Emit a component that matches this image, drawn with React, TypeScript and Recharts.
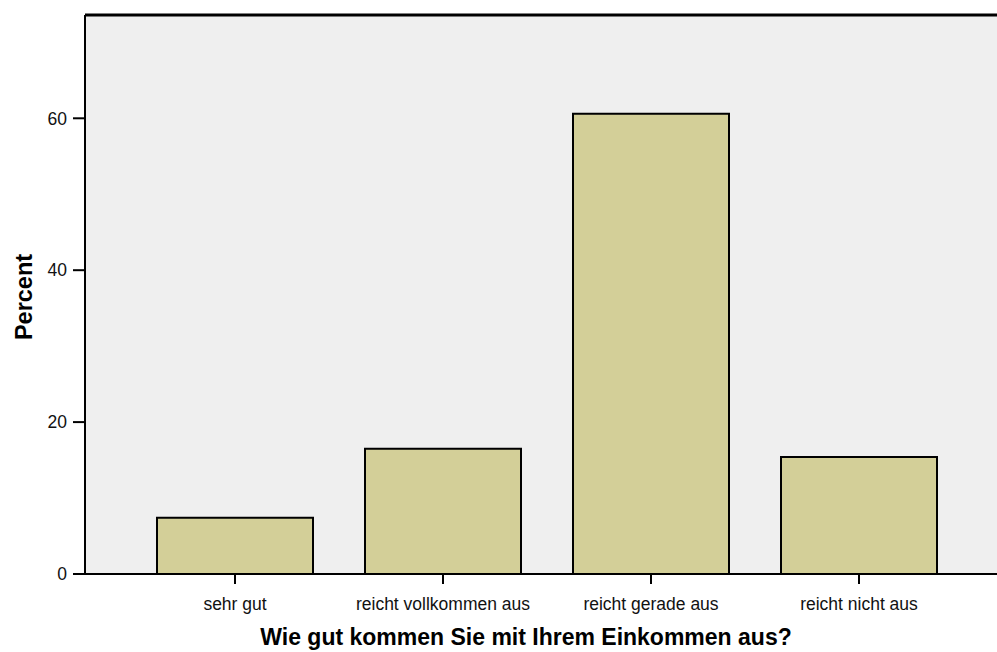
import { ComposedChart, Bar, XAxis, YAxis, CartesianGrid, ReferenceLine, Label } from 'recharts'

// ---------------------------------------------------------------------------
// Data
// ---------------------------------------------------------------------------

const categories = ['sehr gut', 'reicht vollkommen aus', 'reicht gerade aus', 'reicht nicht aus']
const percents = [7.4, 16.5, 60.6, 15.4]
const yTicks = [0, 20, 40, 60]
const Y_MAX = 73.6

// ---------------------------------------------------------------------------
// Colors
// ---------------------------------------------------------------------------

const BAR_FILL = '#d3cf98'
const PLOT_BG = '#efefef'
const FONT = 'Arial, "Liberation Sans", Helvetica, sans-serif'

export default function App() {
  const data = categories.map((name, i) => ({ name, percent: percents[i] }))

  return (
    <div style={{ position: 'absolute', top: 0, left: 0, width: 997, height: 652, background: '#fff', fontFamily: FONT }}>
      <ComposedChart
        width={997}
        height={652}
        data={data}
        margin={{ top: 15, right: 0, bottom: 0, left: 0 }}
        barCategoryGap="12.5%"
        style={{ overflow: 'visible' }}
      >
        <CartesianGrid fill={PLOT_BG} stroke="none" horizontal={false} vertical={false} />
        <XAxis
          dataKey="name"
          height={78}
          padding={{ left: 46, right: 34 }}
          axisLine={{ stroke: '#000', strokeWidth: 2 }}
          tickLine={{ stroke: '#000', strokeWidth: 2 }}
          tickSize={10}
          tickMargin={14}
          tick={{ fill: '#111', fontSize: 17.5, fontFamily: FONT }}
          interval={0}
        >
          <Label
            content={() => (
              <text x={526} y={645} textAnchor="middle" fontSize={23} fontWeight="bold" fill="#000" fontFamily={FONT}>
                Wie gut kommen Sie mit Ihrem Einkommen aus?
              </text>
            )}
          />
        </XAxis>
        <YAxis
          width={85}
          domain={[0, Y_MAX]}
          ticks={yTicks}
          allowDataOverflow
          axisLine={{ stroke: '#000', strokeWidth: 2 }}
          tickLine={{ stroke: '#000', strokeWidth: 2 }}
          tickSize={12}
          tickMargin={6}
          tick={{ fill: '#111', fontSize: 17.5, fontFamily: FONT }}
        >
          <Label
            content={() => (
              <text
                x={32}
                y={297}
                transform="rotate(-90 32 297)"
                textAnchor="middle"
                fontSize={23.5}
                fontWeight="bold"
                fill="#000"
                fontFamily={FONT}
              >
                Percent
              </text>
            )}
          />
        </YAxis>
        <ReferenceLine y={Y_MAX} stroke="#000" strokeWidth={3} />
        <Bar
          dataKey="percent"
          fill={BAR_FILL}
          stroke="#000"
          strokeWidth={2}
          isAnimationActive={false}
        />
      </ComposedChart>
    </div>
  )
}
